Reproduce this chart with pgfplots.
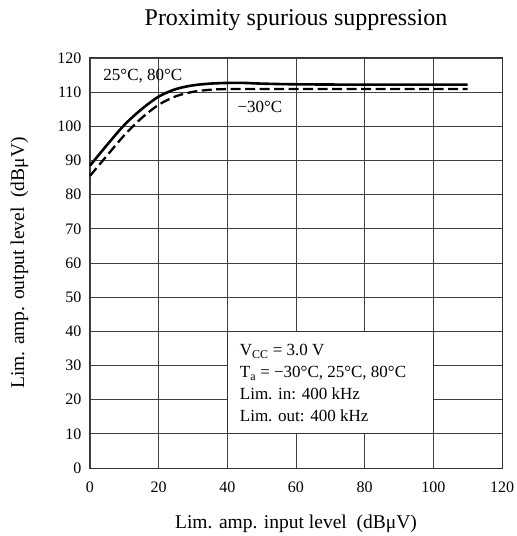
\documentclass[border=0pt]{standalone}
\usepackage{fontspec}
\setmainfont{Liberation Serif}
\usepackage{pgfplots}
\pgfplotsset{compat=1.18}
\begin{document}
\begin{tikzpicture}
\path[use as bounding box] (-90pt,-68pt) rectangle (427pt,468pt);
\begin{axis}[
  at={(0,0)}, anchor=south west,
  scale only axis, width=412pt, height=410pt,
  xmin=0, xmax=120, ymin=0, ymax=120,
  xtick={0,20,...,120}, ytick={0,10,...,120},
  grid=major,
  major grid style={black!75, line width=0.9pt},
  axis line style={black!80, line width=1pt},
  major tick length=0pt,
  /pgf/number format/assume math mode=true,
  tick label style={font=\fontsize{16}{19}\selectfont},
  xticklabel style={yshift=-10pt},
  yticklabel style={xshift=-5pt},
  title={Proximity spurious suppression},
  title style={font=\fontsize{24}{28}\selectfont, at={(axis description cs:0.5,1.078)}, anchor=center},
  xlabel={Lim. amp. input level\ \ (dBμV)},
  ylabel={Lim. amp. output level\ \ (dBμV)},
  label style={font=\fontsize{19.5}{23}\selectfont},
  xlabel style={at={(axis description cs:0.5,-0.1354)}, anchor=center},
  ylabel style={at={(axis description cs:-0.171,0.5)}, anchor=center},
  clip=false,
]
\addplot[black, line width=2.6pt, smooth] coordinates {
(0,88.5) (5,94.6) (10,100.4) (15,105.0) (20,108.7) (25,110.9) (30,112.0) (35,112.5) (40,112.7) (45,112.7) (50,112.5) (60,112.3) (80,112.2) (110,112.2)};
\addplot[black, line width=2.3pt, dash pattern=on 10pt off 4.5pt, smooth] coordinates {
(0,85.5) (5,91.5) (10,97.4) (15,102.4) (20,106.3) (25,108.8) (30,110.1) (35,110.7) (40,110.9) (50,110.9) (60,110.9) (80,110.9) (110,110.9)};
\draw[black!80, line width=0.9pt, fill=white] (axis cs:40,10) rectangle (axis cs:100,40);
\node[anchor=north west, align=left, font=\fontsize{17}{22}\selectfont, inner sep=0pt] at (axis cs:43.6,36.2)
 {V\textsubscript{CC} = 3.0 V\\T\textsubscript{a} = −30°C, 25°C, 80°C\\Lim. in: 400 kHz\\Lim. out: 400 kHz};
\node[font=\fontsize{17}{20}\selectfont] at (axis cs:15.4,114.7) {25°C, 80°C};
\node[font=\fontsize{17}{20}\selectfont] at (axis cs:49.5,105.6) {−30°C};
\end{axis}
\end{tikzpicture}
\end{document}
